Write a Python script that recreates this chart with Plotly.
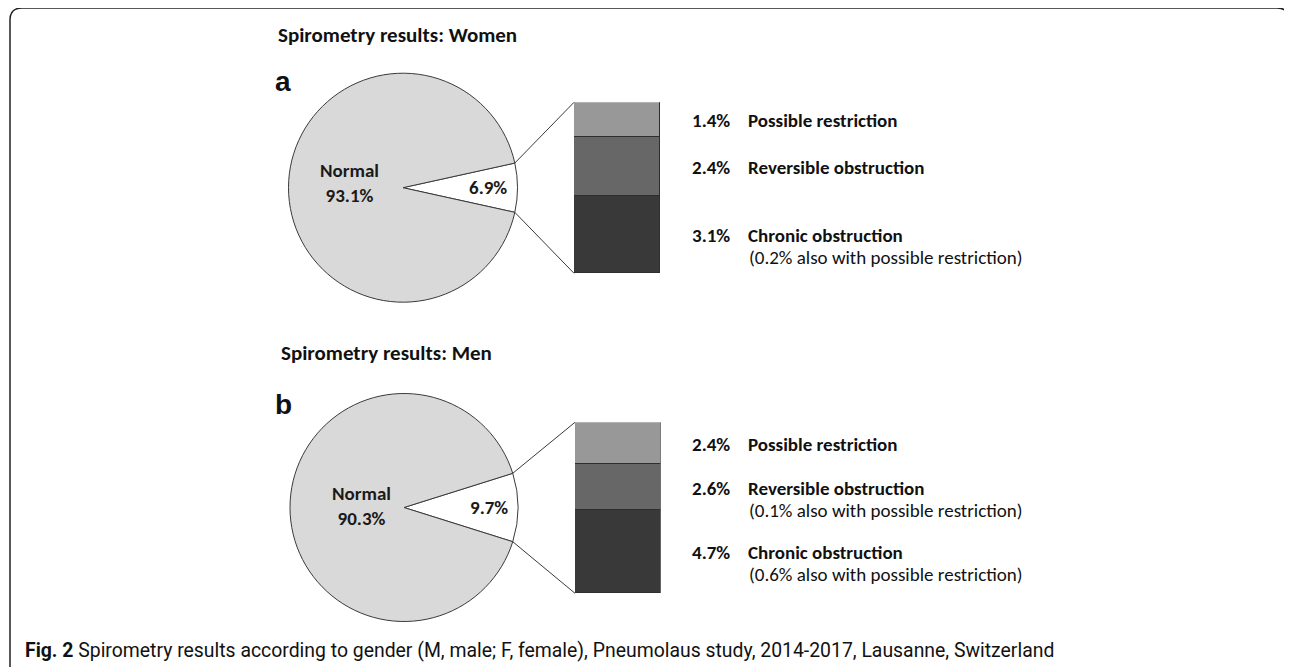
import math
import plotly.graph_objects as go

# ---------------- data ----------------
panels = ["a", "b"]
panel_titles = ["Spirometry results: Women", "Spirometry results: Men"]
normal_pct = [93.1, 90.3]
abnormal_pct = [6.9, 9.7]
categories = ["Chronic obstruction", "Reversible obstruction", "Possible restriction"]  # bottom -> top
women_values = [3.1, 2.4, 1.4]
men_values = [4.7, 2.6, 2.4]
women_notes = ["(0.2% also with possible restriction)", "", ""]
men_notes = ["(0.6% also with possible restriction)", "(0.1% also with possible restriction)", ""]
caption = ("<b>Fig. 2</b> Spirometry results according to gender (M, male; F, female), "
           "Pneumolaus study, 2014-2017, Lausanne, Switzerland")

# ---------------- layout geometry (window pixels) ----------------
W, H = 1292, 668
OFF = 8  # page body margin
FW, FH = W - OFF, H - OFF
pie_centers = [(403.0, 187.7), (404.0, 507.5)]
pie_radius = [114.5, 114.0]
bar_boxes = [(574.0, 660.0, 102.3, 273.3), (575.0, 660.5, 422.3, 593.3)]  # x0,x1,ytop,ybot
normal_label_dx = [-53, -43]
normal_label_dy = [-5, -1]
title_pos = [(278, 35), (281, 353)]
letter_pos = [(275, 82), (275, 404)]
seg_colors = ["#393939", "#676767", "#989898"]
LINE = "#3a3a3a"
TXT = "Carlito, Lato, sans-serif"


def px(x):
    return (x - OFF) / FW


def py(y):
    return 1 - (y - OFF) / FH


fig = go.Figure()

series = [women_values, men_values]
notes = [women_notes, men_notes]
shapes = []
annotations = []

for i in range(2):
    cx, cy = pie_centers[i]
    r = pie_radius[i]
    abn = abnormal_pct[i]
    half = abn / 100 * 360 / 2
    fig.add_trace(go.Pie(
        values=[abn, normal_pct[i]],
        labels=["Abnormal", "Normal"],
        sort=False,
        direction="clockwise",
        rotation=90 - half,
        marker=dict(colors=["#ffffff", "#d9d9d9"], line=dict(color=LINE, width=1)),
        textinfo="none",
        hoverinfo="label+value",
        showlegend=False,
        domain=dict(x=[px(cx - r), px(cx + r)], y=[py(cy + r), py(cy - r)]),
    ))

    # stacked bar for the abnormal breakdown
    xa = "x" if i == 0 else "x2"
    ya = "y" if i == 0 else "y2"
    vals = series[i]
    for k, (cat, v) in enumerate(zip(categories, vals)):
        fig.add_trace(go.Bar(
            x=[0], y=[v], name=cat, xaxis=xa, yaxis=ya,
            width=1, marker=dict(color=seg_colors[k], line=dict(color="#2e2e2e", width=1)),
            showlegend=False, hovertemplate=cat + ": %{y}%<extra></extra>",
        ))
    x0, x1, yt, yb = bar_boxes[i]
    axis_suffix = "" if i == 0 else "2"
    total = sum(vals)
    fig.layout["xaxis" + axis_suffix] = dict(domain=[px(x0), px(x1)], range=[-0.5, 0.5],
                                             visible=False, fixedrange=True)
    fig.layout["yaxis" + axis_suffix] = dict(domain=[py(yb), py(yt)], range=[0, total],
                                             visible=False, fixedrange=True)

    # connector lines from the pie wedge edge to the bar corners
    ang = math.radians(half)
    ex = cx + r * math.cos(ang)
    ey_top = cy - r * math.sin(ang)
    ey_bot = cy + r * math.sin(ang)
    shapes.append(dict(type="line", xref="paper", yref="paper",
                       x0=px(ex), y0=py(ey_top), x1=px(x0), y1=py(yt),
                       line=dict(color=LINE, width=1)))
    shapes.append(dict(type="line", xref="paper", yref="paper",
                       x0=px(ex), y0=py(ey_bot), x1=px(x0), y1=py(yb),
                       line=dict(color=LINE, width=1)))

    # pie labels
    annotations.append(dict(xref="paper", yref="paper",
                            x=px(cx + normal_label_dx[i]), y=py(cy + normal_label_dy[i]),
                            text=f"<b>Normal<br>{normal_pct[i]:.1f}%</b>", showarrow=False,
                            font=dict(family=TXT, size=19, color="#1a1a1a"),
                            xanchor="center", yanchor="middle"))
    annotations.append(dict(xref="paper", yref="paper", x=px(cx + 85), y=py(cy),
                            text=f"<b>{abn:.1f}%</b>", showarrow=False,
                            font=dict(family=TXT, size=19, color="#1a1a1a"),
                            xanchor="center", yanchor="middle"))

    # panel letter and title
    lx, ly = letter_pos[i]
    annotations.append(dict(xref="paper", yref="paper", x=px(lx - 2), y=py(ly),
                            text=f"<b>{panels[i]}</b>", showarrow=False,
                            font=dict(family="Liberation Sans, Arial, sans-serif", size=28, color="#111"),
                            xanchor="left", yanchor="middle"))
    tx, ty = title_pos[i]
    annotations.append(dict(xref="paper", yref="paper", x=px(tx - 2), y=py(ty),
                            text=f"<b>{panel_titles[i]}</b>", showarrow=False,
                            font=dict(family=TXT, size=21, color="#111"),
                            xanchor="left", yanchor="middle"))

    # segment labels, centred on each bar segment
    cum = 0
    for k, (cat, v) in enumerate(zip(categories, vals)):
        mid = cum + v / 2
        cum += v
        annotations.append(dict(xref="paper", yref=ya, x=px(690), y=mid,
                                text=f"<b>{v:.1f}%</b>", showarrow=False,
                                font=dict(family=TXT, size=19, color="#111"),
                                xanchor="left", yanchor="middle", yshift=-1))
        annotations.append(dict(xref="paper", yref=ya, x=px(746), y=mid,
                                text=f"<b>{cat}</b>", showarrow=False,
                                font=dict(family=TXT, size=19, color="#111"),
                                xanchor="left", yanchor="middle", yshift=-1))
        if notes[i][k]:
            annotations.append(dict(xref="paper", yref=ya, x=px(747), y=mid,
                                    text=notes[i][k], showarrow=False,
                                    font=dict(family=TXT, size=19, color="#111"),
                                    xanchor="left", yanchor="middle", yshift=-23))

# caption
annotations.append(dict(xref="paper", yref="paper", x=px(23), y=py(650),
                        text=caption, showarrow=False,
                        font=dict(family="Myriad Pro, Roboto, sans-serif", size=19.4, color="#111"),
                        xanchor="left", yanchor="middle"))

# rounded frame around the figure
fx0, fy0, fx1, fy1, rr = 10, 8, 1289, 667, 12
path = (f"M {px(fx0)},{py(fy1)} L {px(fx0)},{py(fy0 + rr)} "
        f"Q {px(fx0)},{py(fy0)} {px(fx0 + rr)},{py(fy0)} "
        f"L {px(fx1 - rr)},{py(fy0)} Q {px(fx1)},{py(fy0)} {px(fx1)},{py(fy0 + rr)} "
        f"L {px(fx1)},{py(fy1)}")
shapes.append(dict(type="path", xref="paper", yref="paper", path=path,
                   line=dict(color="#222", width=1.5)))

fig.update_layout(
    width=FW, height=FH, margin=dict(l=0, r=0, t=0, b=0),
    paper_bgcolor="white", plot_bgcolor="rgba(0,0,0,0)",
    barmode="stack", bargap=0,
    shapes=shapes, annotations=annotations, showlegend=False,
)

fig.write_html("out.html")
